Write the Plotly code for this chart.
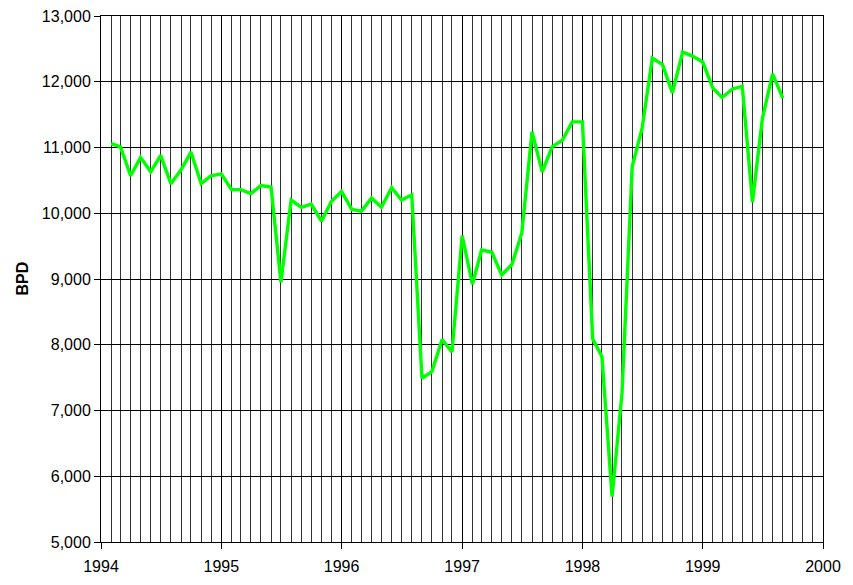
import plotly.graph_objects as go
import pandas as pd

start_month = "1994-02-01"
bpd = [
    11060, 11010, 10570, 10850, 10630, 10880, 10450, 10660, 10930, 10450, 10570,
    10600, 10360, 10360, 10300, 10420, 10400, 8950, 10200, 10090, 10140, 9880, 10180,
    10330, 10060, 10030, 10230, 10090, 10390, 10200, 10280, 7490, 7590, 8080, 7890,
    9660, 8920, 9440, 9410, 9060, 9220, 9700, 11240, 10630, 11010, 11110, 11390,
    11390, 8090, 7820, 5690, 7260, 10710, 11290, 12360, 12260, 11830, 12450, 12390,
    12300, 11900, 11760, 11890, 11930, 10170, 11440, 12120, 11750,
]
months = pd.date_range(start_month, periods=len(bpd), freq="MS")

y_title = "BPD"
font_family = "Liberation Sans, Arial, sans-serif"

fig = go.Figure()
fig.add_trace(go.Scatter(
    x=months, y=bpd, mode="lines",
    line=dict(color="#00FF00", width=3.4),
    showlegend=False,
))

fig.update_layout(
    width=853, height=585,
    margin=dict(l=93, r=38, t=8, b=51, autoexpand=False),
    paper_bgcolor="white", plot_bgcolor="white",
    font=dict(family=font_family, size=16, color="black"),
    xaxis=dict(
        type="date", automargin=False,
        range=["1994-01-01", "2000-01-01"],
        dtick="M12", tick0="1994-01-01", tickformat="%Y",
        ticks="outside", ticklen=6, tickcolor="black",
        ticklabelstandoff=4, ticklabeloverflow="allow",
        showgrid=True, gridcolor="black", gridwidth=1,
        minor=dict(dtick="M1", tick0="1994-01-01", showgrid=True,
                   gridcolor="#333333", gridwidth=1, ticks=""),
        showline=True, linecolor="black", linewidth=1, mirror=True,
        zeroline=False,
    ),
    yaxis=dict(
        automargin=False,
        range=[5000, 13000], dtick=1000, tick0=5000, tickformat=",d",
        ticks="outside", ticklen=6, tickcolor="black",
        ticklabelstandoff=0, ticklabeloverflow="allow",
        showgrid=True, gridcolor="black", gridwidth=1,
        showline=True, linecolor="black", linewidth=1, mirror=True,
        zeroline=False,
    ),
    annotations=[dict(
        text="<b>" + y_title + "</b>", textangle=-90,
        xref="paper", yref="paper", x=-0.11, y=0.5,
        xanchor="center", yanchor="middle", showarrow=False,
        font=dict(family=font_family, size=16, color="black"),
    )],
)

fig.write_html("out.html")
